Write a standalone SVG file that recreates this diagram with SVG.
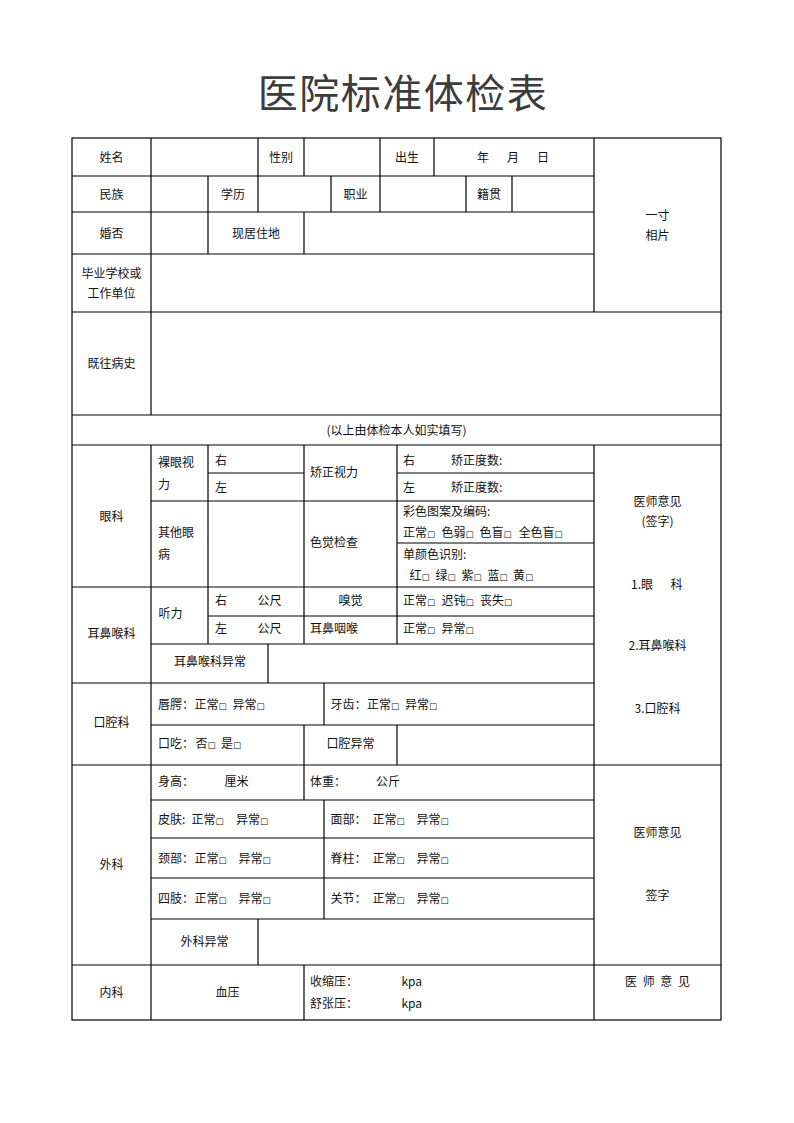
<svg xmlns="http://www.w3.org/2000/svg" width="794" height="1123" viewBox="0 0 794 1123">
<style>
.g line,.g rect{stroke:#000;stroke-width:1.2;fill:none}
.t{font-family:"Noto Sans CJK SC","Noto Sans",sans-serif;font-size:12px;fill:#111}
.c{text-anchor:middle}
.b{font-family:"DejaVu Sans",sans-serif;font-size:8.5px}
.title{font-family:"Noto Sans CJK SC","Noto Sans",sans-serif;font-size:40px;fill:#3c3c3c;text-anchor:middle;letter-spacing:1.5px}
</style>
<rect width="794" height="1123" fill="#fff"/>
<text class="title" x="403" y="108">医院标准体检表</text>
<g id="grid" class="g">
<rect x="72" y="138" width="649" height="882"/>
<line x1="72" y1="176" x2="594" y2="176"/>
<line x1="72" y1="212" x2="594" y2="212"/>
<line x1="72" y1="254" x2="594" y2="254"/>
<line x1="72" y1="312" x2="721" y2="312"/>
<line x1="72" y1="415" x2="721" y2="415"/>
<line x1="72" y1="445" x2="721" y2="445"/>
<line x1="208" y1="473" x2="304" y2="473"/>
<line x1="397" y1="473" x2="594" y2="473"/>
<line x1="151" y1="501" x2="594" y2="501"/>
<line x1="397" y1="543" x2="594" y2="543"/>
<line x1="72" y1="587" x2="594" y2="587"/>
<line x1="208" y1="616" x2="594" y2="616"/>
<line x1="151" y1="644" x2="594" y2="644"/>
<line x1="72" y1="683" x2="594" y2="683"/>
<line x1="151" y1="725" x2="594" y2="725"/>
<line x1="72" y1="765" x2="721" y2="765"/>
<line x1="151" y1="800" x2="594" y2="800"/>
<line x1="151" y1="838" x2="594" y2="838"/>
<line x1="151" y1="878" x2="594" y2="878"/>
<line x1="151" y1="919" x2="594" y2="919"/>
<line x1="72" y1="965" x2="721" y2="965"/>
<line x1="151" y1="138" x2="151" y2="415"/>
<line x1="151" y1="445" x2="151" y2="1020"/>
<line x1="258" y1="138" x2="258" y2="212"/>
<line x1="258" y1="919" x2="258" y2="965"/>
<line x1="304" y1="138" x2="304" y2="176"/>
<line x1="304" y1="212" x2="304" y2="254"/>
<line x1="304" y1="445" x2="304" y2="644"/>
<line x1="304" y1="725" x2="304" y2="800"/>
<line x1="304" y1="965" x2="304" y2="1020"/>
<line x1="380" y1="138" x2="380" y2="212"/>
<line x1="434" y1="138" x2="434" y2="176"/>
<line x1="208" y1="176" x2="208" y2="254"/>
<line x1="208" y1="445" x2="208" y2="644"/>
<line x1="331" y1="176" x2="331" y2="212"/>
<line x1="466" y1="176" x2="466" y2="212"/>
<line x1="512" y1="176" x2="512" y2="212"/>
<line x1="594" y1="138" x2="594" y2="312"/>
<line x1="594" y1="445" x2="594" y2="1020"/>
<line x1="397" y1="445" x2="397" y2="644"/>
<line x1="397" y1="725" x2="397" y2="765"/>
<line x1="268" y1="644" x2="268" y2="683"/>
<line x1="324" y1="683" x2="324" y2="725"/>
<line x1="324" y1="800" x2="324" y2="919"/>
</g>
<g id="labels" class="t">
<text class="c" x="111.5" y="161.5">姓名</text>
<text class="c" x="281" y="161.5">性别</text>
<text class="c" x="407" y="161.5">出生</text>
<text y="161.5"><tspan x="477">年</tspan><tspan x="507">月</tspan><tspan x="537">日</tspan></text>
<text class="c" x="657.5" y="219.5">一寸</text>
<text class="c" x="657.5" y="239.5">相片</text>
<text class="c" x="111.5" y="198.5">民族</text>
<text class="c" x="233" y="198.5">学历</text>
<text class="c" x="355.5" y="198.5">职业</text>
<text class="c" x="489" y="198.5">籍贯</text>
<text class="c" x="111.5" y="237.5">婚否</text>
<text class="c" x="256" y="237.5">现居住地</text>
<text class="c" x="111.5" y="277.8">毕业学校或</text>
<text class="c" x="111.5" y="297.8">工作单位</text>
<text class="c" x="111.5" y="368">既往病史</text>
<text class="c" x="396.5" y="434.5">(以上由体检本人如实填写)</text>
<text class="c" x="111.5" y="521">眼科</text>
<text x="158" y="467">裸眼视</text>
<text x="158" y="488.5">力</text>
<text x="215" y="464.5">右</text>
<text x="215" y="491.8">左</text>
<text x="310" y="477">矫正视力</text>
<text y="465"><tspan x="403">右</tspan><tspan x="451">矫正度数:</tspan></text>
<text y="492"><tspan x="403">左</tspan><tspan x="451">矫正度数:</tspan></text>
<text x="403" y="516.2">彩色图案及编码:</text>
<text y="537.2"><tspan x="403">正常<tspan class="b">□</tspan></tspan><tspan x="441.5">色弱<tspan class="b">□</tspan></tspan><tspan x="479.5">色盲<tspan class="b">□</tspan></tspan><tspan x="518.5">全色盲<tspan class="b">□</tspan></tspan></text>
<text x="403" y="558.8">单颜色识别:</text>
<text y="579.5"><tspan x="409.5">红<tspan class="b">□</tspan></tspan><tspan x="435.5">绿<tspan class="b">□</tspan></tspan><tspan x="461.5">紫<tspan class="b">□</tspan></tspan><tspan x="487.5">蓝<tspan class="b">□</tspan></tspan><tspan x="513">黄<tspan class="b">□</tspan></tspan></text>
<text x="158" y="537.2">其他眼</text>
<text x="158" y="558.5">病</text>
<text x="310" y="547.2">色觉检查</text>
<text class="c" x="657.5" y="505.5">医师意见</text>
<text class="c" x="657.5" y="526.2">(签字)</text>
<text y="588.5"><tspan x="631">1.眼</tspan><tspan x="670.5">科</tspan></text>
<text class="c" x="657.5" y="650.2">2.耳鼻喉科</text>
<text class="c" x="657.5" y="712.8">3.口腔科</text>
<text class="c" x="111.5" y="637.8">耳鼻喉科</text>
<text x="158.5" y="617.8">听力</text>
<text y="604.5"><tspan x="215">右</tspan><tspan x="257.5">公尺</tspan></text>
<text y="632.8"><tspan x="215">左</tspan><tspan x="257.5">公尺</tspan></text>
<text class="c" x="350.5" y="604.5">嗅觉</text>
<text x="310" y="632.8">耳鼻咽喉</text>
<text y="604.5"><tspan x="403">正常<tspan class="b">□</tspan></tspan><tspan x="441.5">迟钝<tspan class="b">□</tspan></tspan><tspan x="480">丧失<tspan class="b">□</tspan></tspan></text>
<text y="632.8"><tspan x="403">正常<tspan class="b">□</tspan></tspan><tspan x="441.5">异常<tspan class="b">□</tspan></tspan></text>
<text class="c" x="210" y="665.5">耳鼻喉科异常</text>
<text class="c" x="111.5" y="727.2">口腔科</text>
<text y="708.8"><tspan x="158">唇腭：</tspan><tspan x="194.5">正常<tspan class="b">□</tspan></tspan><tspan x="232.5">异常<tspan class="b">□</tspan></tspan></text>
<text y="708.8"><tspan x="330.5">牙齿：</tspan><tspan x="367">正常<tspan class="b">□</tspan></tspan><tspan x="405">异常<tspan class="b">□</tspan></tspan></text>
<text y="747.8"><tspan x="158">口吃：</tspan><tspan x="195.5">否<tspan class="b">□</tspan></tspan><tspan x="221">是<tspan class="b">□</tspan></tspan></text>
<text class="c" x="350.5" y="747.8">口腔异常</text>
<text class="c" x="111.5" y="868.8">外科</text>
<text y="786.2"><tspan x="158">身高：</tspan><tspan x="224.5">厘米</tspan></text>
<text y="786.2"><tspan x="310">体重：</tspan><tspan x="376">公斤</tspan></text>
<text y="823.8"><tspan x="158">皮肤:</tspan><tspan x="191.5">正常<tspan class="b">□</tspan></tspan><tspan x="236">异常<tspan class="b">□</tspan></tspan></text>
<text y="823.8"><tspan x="330.5">面部：</tspan><tspan x="372.5">正常<tspan class="b">□</tspan></tspan><tspan x="416.5">异常<tspan class="b">□</tspan></tspan></text>
<text y="862.8"><tspan x="158">颈部：</tspan><tspan x="194.5">正常<tspan class="b">□</tspan></tspan><tspan x="238.5">异常<tspan class="b">□</tspan></tspan></text>
<text y="862.8"><tspan x="330.5">脊柱：</tspan><tspan x="372.5">正常<tspan class="b">□</tspan></tspan><tspan x="416.5">异常<tspan class="b">□</tspan></tspan></text>
<text y="902.8"><tspan x="158">四肢：</tspan><tspan x="194.5">正常<tspan class="b">□</tspan></tspan><tspan x="238.5">异常<tspan class="b">□</tspan></tspan></text>
<text y="902.8"><tspan x="330.5">关节：</tspan><tspan x="372.5">正常<tspan class="b">□</tspan></tspan><tspan x="416.5">异常<tspan class="b">□</tspan></tspan></text>
<text class="c" x="204.5" y="946.2">外科异常</text>
<text class="c" x="657.5" y="836.8">医师意见</text>
<text class="c" x="657.5" y="900.2">签字</text>
<text class="c" x="111.5" y="997.2">内科</text>
<text class="c" x="227.5" y="997.2">血压</text>
<text y="986.2"><tspan x="310">收缩压：</tspan><tspan x="401.5">kpa</tspan></text>
<text y="1007.8"><tspan x="310">舒张压：</tspan><tspan x="401.5">kpa</tspan></text>
<text class="c" x="657.5" y="986.2" word-spacing="3px">医 师 意 见</text>
</g>
</svg>
